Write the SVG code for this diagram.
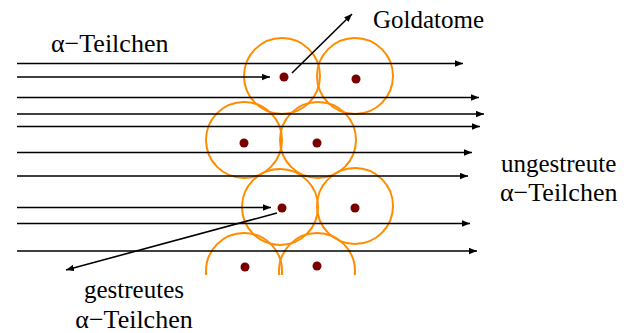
<svg xmlns="http://www.w3.org/2000/svg" width="636" height="333" viewBox="0 0 636 333">
<style>
.ray{stroke:#000;stroke-width:1.6;fill:none;marker-end:url(#ah)}
.atom{fill:none;stroke:#FF8C00;stroke-width:2}
.nuc{fill:#7A0000}
.lbl{font-family:"Liberation Serif","Times New Roman",serif;font-size:25px;fill:#000}
.alp{font-size:26px}
</style>
<defs>
<marker id="ah" viewBox="0 0 10 8" refX="10" refY="4" markerWidth="8" markerHeight="7" markerUnits="userSpaceOnUse" orient="auto">
<path d="M0,0 L10,4 L0,8 z" fill="#000"/>
</marker>
<clipPath id="cut"><rect x="0" y="0" width="636" height="275"/></clipPath>
</defs>
<g id="atoms" clip-path="url(#cut)">
<g id="atom1"><circle class="atom" cx="282" cy="76" r="38"/><circle class="nuc" cx="284" cy="77" r="4.5"/></g>
<g id="atom2"><circle class="atom" cx="355" cy="76" r="38"/><circle class="nuc" cx="356" cy="79" r="4.5"/></g>
<g id="atom3"><circle class="atom" cx="244" cy="140" r="38"/><circle class="nuc" cx="244" cy="143" r="4.5"/></g>
<g id="atom4"><circle class="atom" cx="318" cy="140" r="38"/><circle class="nuc" cx="317" cy="143" r="4.5"/></g>
<g id="atom5"><circle class="atom" cx="280" cy="207" r="38"/><circle class="nuc" cx="282" cy="208" r="4.5"/></g>
<g id="atom6"><circle class="atom" cx="355" cy="206" r="38"/><circle class="nuc" cx="355" cy="208" r="4.5"/></g>
<g id="atom7"><circle class="atom" cx="244" cy="271" r="38"/><circle class="nuc" cx="245" cy="267" r="4.5"/></g>
<g id="atom8"><circle class="atom" cx="317" cy="271" r="38"/><circle class="nuc" cx="317" cy="266" r="4.5"/></g>
</g>
<g id="connectors">
<line class="ray" x1="17" y1="63.5" x2="463" y2="63.5"/>
<line class="ray" x1="17" y1="77" x2="270" y2="77"/>
<line class="ray" x1="17" y1="97.5" x2="479" y2="97.5"/>
<line class="ray" x1="17" y1="114" x2="484" y2="114"/>
<line class="ray" x1="17" y1="126.5" x2="480" y2="126.5"/>
<line class="ray" x1="17" y1="152.5" x2="472" y2="152.5"/>
<line class="ray" x1="17" y1="176" x2="468" y2="176"/>
<line class="ray" x1="17" y1="207.5" x2="271" y2="207.5"/>
<line class="ray" x1="17" y1="223.5" x2="470" y2="223.5"/>
<line class="ray" x1="17" y1="251" x2="477" y2="251"/>
<line class="ray" x1="292" y1="73" x2="352" y2="14"/>
<line class="ray" x1="277" y1="213" x2="66" y2="270"/>
</g>
<g id="labels">
<text class="lbl alp" x="51" y="52">α−Teilchen</text>
<text class="lbl" x="373" y="28">Goldatome</text>
<text class="lbl" x="501" y="172">ungestreute</text>
<text class="lbl alp" x="500" y="201">α−Teilchen</text>
<text class="lbl" x="134" y="298" text-anchor="middle">gestreutes</text>
<text class="lbl alp" x="134" y="328" text-anchor="middle">α−Teilchen</text>
</g>
</svg>
